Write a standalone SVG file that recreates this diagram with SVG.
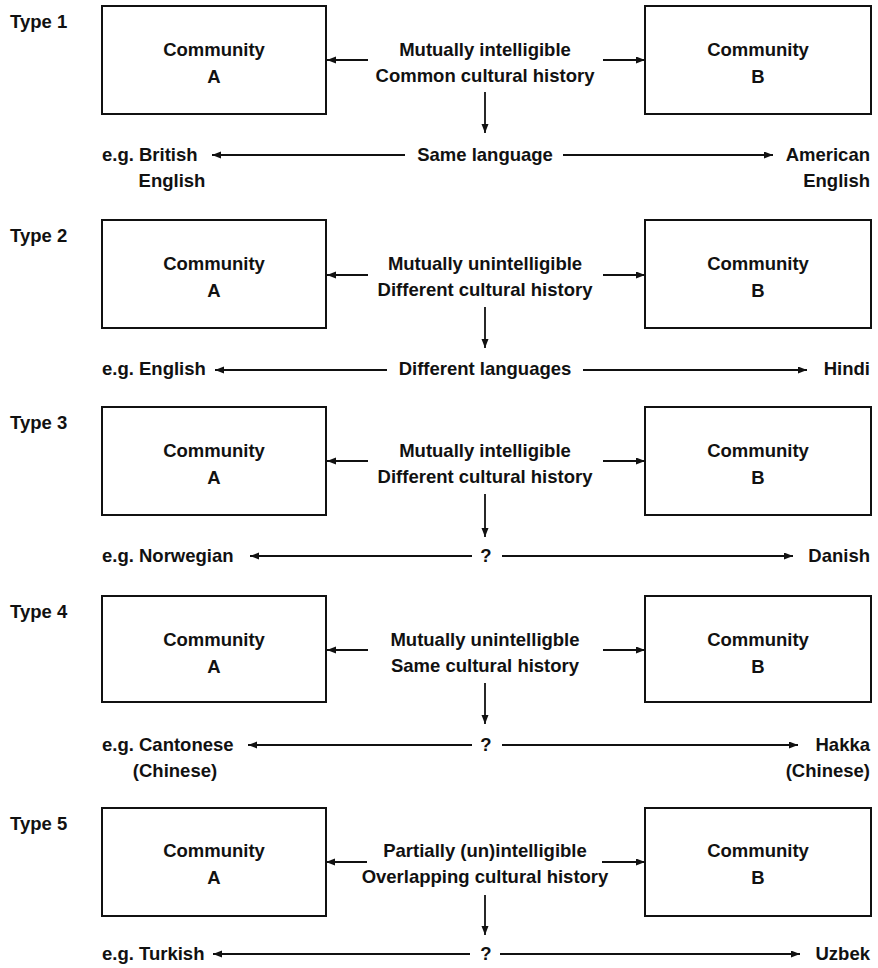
<svg xmlns="http://www.w3.org/2000/svg" width="878" height="968" viewBox="0 0 878 968">
<style>
text{font-family:"Liberation Sans",Arial,sans-serif;font-weight:bold;font-size:18.5px;fill:#111}
.m{text-anchor:middle}
.r{text-anchor:end}
.box{fill:#fff;stroke:#111;stroke-width:2}
.c{stroke:#111;stroke-width:1.8;fill:none;marker-end:url(#ah)}
</style>
<defs>
<marker id="ah" markerUnits="userSpaceOnUse" markerWidth="10" markerHeight="8" refX="9" refY="3.5" orient="auto">
<path d="M0,0 L9,3.5 L0,7 z" fill="#111"/>
</marker>
</defs>
<rect width="878" height="968" fill="#fff"/>

<!-- Type 1 -->
<g id="type1-label"><text x="10" y="28">Type 1</text></g>
<g id="t1-a"><rect class="box" x="102" y="6" width="224" height="108"/><text class="m" x="214" y="56">Community</text><text class="m" x="214" y="83">A</text></g>
<g id="t1-b"><rect class="box" x="645" y="6" width="226" height="108"/><text class="m" x="758" y="56">Community</text><text class="m" x="758" y="83">B</text></g>
<g id="t1-mid"><text class="m" x="485" y="56">Mutually intelligible</text><text class="m" x="485" y="82">Common cultural history</text></g>
<g id="t1-lang"><text class="m" x="485" y="161">Same language</text></g>
<g id="t1-left"><text x="102" y="161">e.g. British</text><text class="m" x="172" y="187">English</text></g>
<g id="t1-right"><text class="r" x="870" y="161">American</text><text class="r" x="870" y="187">English</text></g>

<!-- Type 2 -->
<g id="type2-label"><text x="10" y="242">Type 2</text></g>
<g id="t2-a"><rect class="box" x="102" y="220" width="224" height="108"/><text class="m" x="214" y="270">Community</text><text class="m" x="214" y="297">A</text></g>
<g id="t2-b"><rect class="box" x="645" y="220" width="226" height="108"/><text class="m" x="758" y="270">Community</text><text class="m" x="758" y="297">B</text></g>
<g id="t2-mid"><text class="m" x="485" y="270">Mutually unintelligible</text><text class="m" x="485" y="296">Different cultural history</text></g>
<g id="t2-lang"><text class="m" x="485" y="375">Different languages</text></g>
<g id="t2-left"><text x="102" y="375">e.g. English</text></g>
<g id="t2-right"><text class="r" x="870" y="375">Hindi</text></g>

<!-- Type 3 -->
<g id="type3-label"><text x="10" y="429">Type 3</text></g>
<g id="t3-a"><rect class="box" x="102" y="407" width="224" height="108"/><text class="m" x="214" y="457">Community</text><text class="m" x="214" y="484">A</text></g>
<g id="t3-b"><rect class="box" x="645" y="407" width="226" height="108"/><text class="m" x="758" y="457">Community</text><text class="m" x="758" y="484">B</text></g>
<g id="t3-mid"><text class="m" x="485" y="457">Mutually intelligible</text><text class="m" x="485" y="483">Different cultural history</text></g>
<g id="t3-lang"><text class="m" x="486" y="562">?</text></g>
<g id="t3-left"><text x="102" y="562">e.g. Norwegian</text></g>
<g id="t3-right"><text class="r" x="870" y="562">Danish</text></g>

<!-- Type 4 -->
<g id="type4-label"><text x="10" y="618">Type 4</text></g>
<g id="t4-a"><rect class="box" x="102" y="596" width="224" height="106"/><text class="m" x="214" y="646">Community</text><text class="m" x="214" y="673">A</text></g>
<g id="t4-b"><rect class="box" x="645" y="596" width="226" height="106"/><text class="m" x="758" y="646">Community</text><text class="m" x="758" y="673">B</text></g>
<g id="t4-mid"><text class="m" x="485" y="646">Mutually unintelligble</text><text class="m" x="485" y="672">Same cultural history</text></g>
<g id="t4-lang"><text class="m" x="486" y="751">?</text></g>
<g id="t4-left"><text x="102" y="751">e.g. Cantonese</text><text class="m" x="175" y="777">(Chinese)</text></g>
<g id="t4-right"><text class="r" x="870" y="751">Hakka</text><text class="r" x="870" y="777">(Chinese)</text></g>

<!-- Type 5 -->
<g id="type5-label"><text x="10" y="830">Type 5</text></g>
<g id="t5-a"><rect class="box" x="102" y="808" width="224" height="108"/><text class="m" x="214" y="857">Community</text><text class="m" x="214" y="884">A</text></g>
<g id="t5-b"><rect class="box" x="645" y="808" width="226" height="108"/><text class="m" x="758" y="857">Community</text><text class="m" x="758" y="884">B</text></g>
<g id="t5-mid"><text class="m" x="485" y="857">Partially (un)intelligible</text><text class="m" x="485" y="883">Overlapping cultural history</text></g>
<g id="t5-lang"><text class="m" x="486" y="960">?</text></g>
<g id="t5-left"><text x="102" y="960">e.g. Turkish</text></g>
<g id="t5-right"><text class="r" x="870" y="960">Uzbek</text></g>

<g id="connectors">
<!-- Type 1 -->
<line class="c" x1="368" y1="60" x2="327" y2="60"/>
<line class="c" x1="603" y1="60" x2="645" y2="60"/>
<line class="c" x1="485" y1="92" x2="485" y2="133"/>
<line class="c" x1="405" y1="155" x2="212" y2="155"/>
<line class="c" x1="563" y1="155" x2="773" y2="155"/>
<!-- Type 2 -->
<line class="c" x1="368" y1="275" x2="327" y2="275"/>
<line class="c" x1="603" y1="275" x2="645" y2="275"/>
<line class="c" x1="485" y1="307" x2="485" y2="348"/>
<line class="c" x1="387" y1="370" x2="215" y2="370"/>
<line class="c" x1="583" y1="370" x2="807" y2="370"/>
<!-- Type 3 -->
<line class="c" x1="368" y1="461" x2="327" y2="461"/>
<line class="c" x1="603" y1="461" x2="645" y2="461"/>
<line class="c" x1="485" y1="494" x2="485" y2="537"/>
<line class="c" x1="472" y1="556" x2="250" y2="556"/>
<line class="c" x1="502" y1="556" x2="793" y2="556"/>
<!-- Type 4 -->
<line class="c" x1="368" y1="650" x2="327" y2="650"/>
<line class="c" x1="603" y1="650" x2="645" y2="650"/>
<line class="c" x1="485" y1="683" x2="485" y2="724"/>
<line class="c" x1="472" y1="745" x2="248" y2="745"/>
<line class="c" x1="502" y1="745" x2="798" y2="745"/>
<!-- Type 5 -->
<line class="c" x1="367" y1="862" x2="326" y2="862"/>
<line class="c" x1="602" y1="862" x2="645" y2="862"/>
<line class="c" x1="485" y1="895" x2="485" y2="935"/>
<line class="c" x1="470" y1="954" x2="213" y2="954"/>
<line class="c" x1="500" y1="954" x2="800" y2="954"/>
</g>
</svg>
